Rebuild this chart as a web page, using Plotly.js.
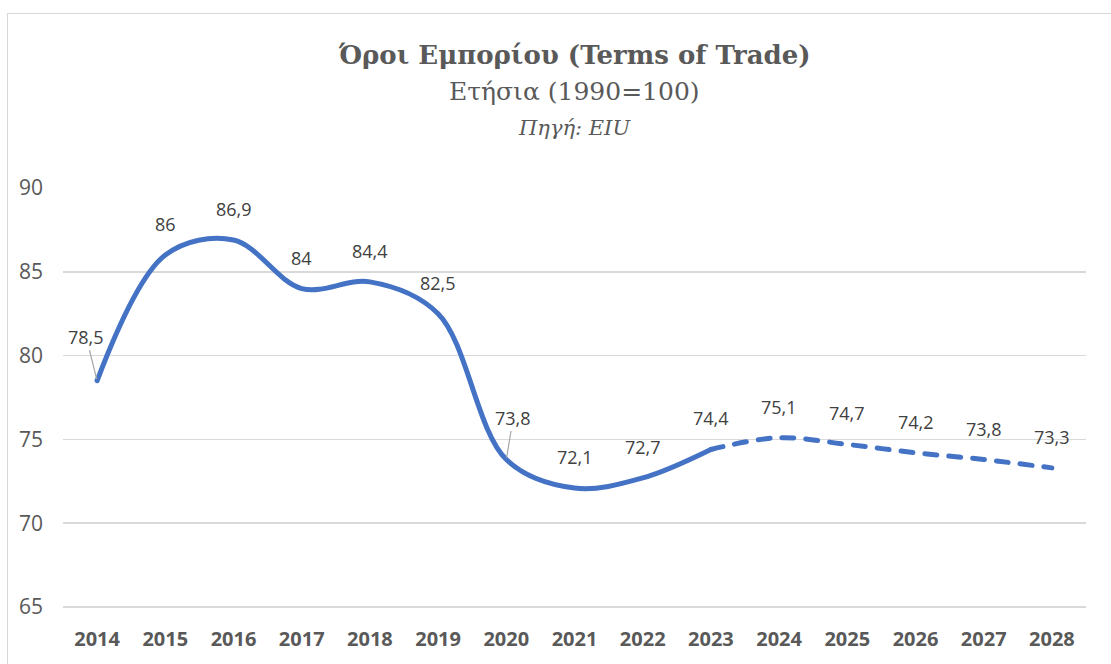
<!DOCTYPE html>
<html>
<head>
<meta charset="utf-8">
<script src="https://cdn.plot.ly/plotly-3.0.1.min.js"></script>
<style>
html,body{margin:0;padding:0;overflow:hidden;background:#fff;}
#chart{width:1111px;height:664px;position:absolute;left:0;top:0;}
#frame{position:absolute;left:7px;top:13px;width:1200px;height:800px;border:1.5px solid #d9d9d9;pointer-events:none;}
#chart .scatterlayer .js-line{stroke-linecap:round;stroke-linejoin:round;}
</style>
</head>
<body>
<div id="chart"></div>
<div id="frame"></div>
<script>
const years = ['2014','2015','2016','2017','2018','2019','2020','2021','2022','2023','2024','2025','2026','2027','2028'];
const values = [78.5, 86, 86.9, 84, 84.4, 82.5, 73.8, 72.1, 72.7, 74.4, 75.1, 74.7, 74.2, 73.8, 73.3];
const forecastStart = 9; // index of 2023: dashed from here on
const yTicks = [65, 70, 75, 80, 85, 90];

const blue = '#4472C4';
const fmt = v => String(v).replace('.', ',');

const solid = {
  x: years.slice(0, forecastStart + 1), y: values.slice(0, forecastStart + 1),
  type: 'scatter', mode: 'lines',
  line: {color: blue, width: 5, shape: 'spline', smoothing: 1},
  hoverinfo: 'skip', showlegend: false
};
const dashed = {
  x: years.slice(forecastStart), y: values.slice(forecastStart),
  type: 'scatter', mode: 'lines',
  line: {color: blue, width: 5, shape: 'spline', smoothing: 1, dash: '12px,12px'},
  hoverinfo: 'skip', showlegend: false
};

const leader = {'2014': [-11, -44], '2020': [7, -42]};
const labelAnn = years.map((yr, i) => {
  const base = {
    x: i, y: values[i], xref: 'x', yref: 'y', text: fmt(values[i]),
    font: {family: 'Open Sans, sans-serif', size: 18, color: '#404040'}
  };
  if (leader[yr]) {
    return Object.assign(base, {showarrow: true, arrowhead: 0, arrowwidth: 1.2, arrowcolor: '#a6a6a6',
      ax: leader[yr][0], ay: leader[yr][1], standoff: 2, startstandoff: 0});
  }
  return Object.assign(base, {showarrow: false, yshift: 31});
});

const titleAnn = [
  {text: '<b>Όροι Εμπορίου (Terms of Trade)</b>', x: 0.5, y: 1.3174, xref: 'paper', yref: 'paper',
   xanchor: 'center', yanchor: 'middle', showarrow: false,
   font: {family: 'DejaVu Serif, serif', size: 26, color: '#595959'}},
  {text: 'Ετήσια (1990=100)', x: 0.5, y: 1.2291, xref: 'paper', yref: 'paper',
   xanchor: 'center', yanchor: 'middle', showarrow: false,
   font: {family: 'DejaVu Serif, serif', size: 25, color: '#595959'}},
  {text: '<i>Πηγή: EIU</i>', x: 0.5, y: 1.1432, xref: 'paper', yref: 'paper',
   xanchor: 'center', yanchor: 'middle', showarrow: false,
   font: {family: 'DejaVu Serif, serif', size: 21, color: '#595959'}}
];

const layout = {
  width: 1111, height: 664,
  margin: {l: 63, r: 25, t: 188, b: 56, pad: 0},
  paper_bgcolor: '#ffffff', plot_bgcolor: '#ffffff',
  xaxis: {
    type: 'category', range: [-0.5, years.length - 0.5],
    showgrid: false, zeroline: false, showline: false, ticks: '',
    tickfont: {family: 'Open Sans, sans-serif', size: 20, color: '#595959', weight: 'bold'},
    ticklabelstandoff: 17
  },
  yaxis: {
    range: [64.94, 90], tickvals: yTicks, ticktext: yTicks.map(String),
    showgrid: true, gridcolor: '#d9d9d9', gridwidth: 1.5, zeroline: false, showline: false, ticks: '',
    tickfont: {family: 'Open Sans, sans-serif', size: 21, color: '#595959'},
    ticklabelstandoff: 19
  },
  annotations: titleAnn.concat(labelAnn),
  showlegend: false
};

Plotly.newPlot('chart', [solid, dashed], layout, {displayModeBar: false, staticPlot: true});
</script>
</body>
</html>
